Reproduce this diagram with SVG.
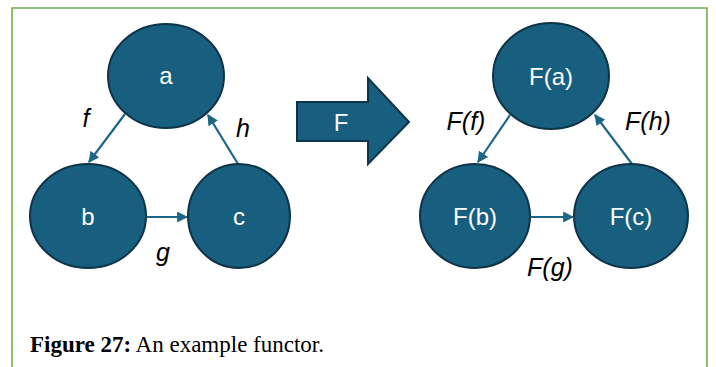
<svg xmlns="http://www.w3.org/2000/svg" width="716" height="367" viewBox="0 0 716 367">
<style>
.node{fill:#175e7f;stroke:#0f3347;stroke-width:2}
.nt{font-family:"Liberation Sans","Arial",sans-serif;font-size:24px;fill:#ffffff;text-anchor:middle}
.lbl{font-family:"Liberation Sans","Arial",sans-serif;font-style:italic;font-size:25px;fill:#000000;text-anchor:middle}
.edge{stroke:#1d6687;stroke-width:2.2;fill:none;marker-end:url(#ah)}
.cap{font-family:"Liberation Serif",serif;font-size:23px;fill:#000}
</style>
<defs>
<marker id="ah" viewBox="0 0 10 10" refX="9" refY="5" markerWidth="5" markerHeight="5" orient="auto" markerUnits="strokeWidth">
<path d="M0,0 L10,5 L0,10 z" fill="#1d6687"/>
</marker>
</defs>
<rect width="716" height="367" fill="#ffffff"/>
<path d="M12,367 V8 H707 V367" fill="none" stroke="#70ad47" stroke-width="1.6"/>
<g id="connectors">
<line class="edge" x1="125" y1="114" x2="89" y2="162"/>
<line class="edge" x1="146" y1="217" x2="187" y2="217"/>
<line class="edge" x1="238" y1="164" x2="208" y2="115"/>
<line class="edge" x1="510" y1="115" x2="478" y2="162"/>
<line class="edge" x1="530" y1="217" x2="573" y2="217"/>
<line class="edge" x1="632" y1="164" x2="595" y2="115"/>
</g>
<g id="node-a"><ellipse class="node" cx="166" cy="76" rx="58" ry="52"/><text class="nt" x="166" y="84">a</text></g>
<g id="node-b"><ellipse class="node" cx="88" cy="216" rx="58" ry="52"/><text class="nt" x="88" y="225">b</text></g>
<g id="node-c"><ellipse class="node" cx="239" cy="216" rx="51" ry="52"/><text class="nt" x="239" y="225">c</text></g>
<g id="node-Fa"><ellipse class="node" cx="551" cy="76" rx="58" ry="53"/><text class="nt" x="551" y="85">F(a)</text></g>
<g id="node-Fb"><ellipse class="node" cx="475" cy="216" rx="55" ry="52"/><text class="nt" x="475" y="225">F(b)</text></g>
<g id="node-Fc"><ellipse class="node" cx="631" cy="216" rx="57" ry="52"/><text class="nt" x="631" y="225">F(c)</text></g>
<g id="functor-F">
<path class="node" d="M297,102 H368 V78 L409,122 L368,164 V141 H297 Z"/>
<text class="nt" x="341" y="131">F</text>
</g>
<g id="labels">
<text class="lbl" x="86" y="127">f</text>
<text class="lbl" x="243" y="137">h</text>
<text class="lbl" x="163" y="261">g</text>
<text class="lbl" x="466" y="130">F(f)</text>
<text class="lbl" x="648" y="130">F(h)</text>
<text class="lbl" x="550" y="276">F(g)</text>
</g>
<text class="cap" x="30" y="352" textLength="294" lengthAdjust="spacingAndGlyphs"><tspan font-weight="bold">Figure 27:</tspan> An example functor.</text>
</svg>
